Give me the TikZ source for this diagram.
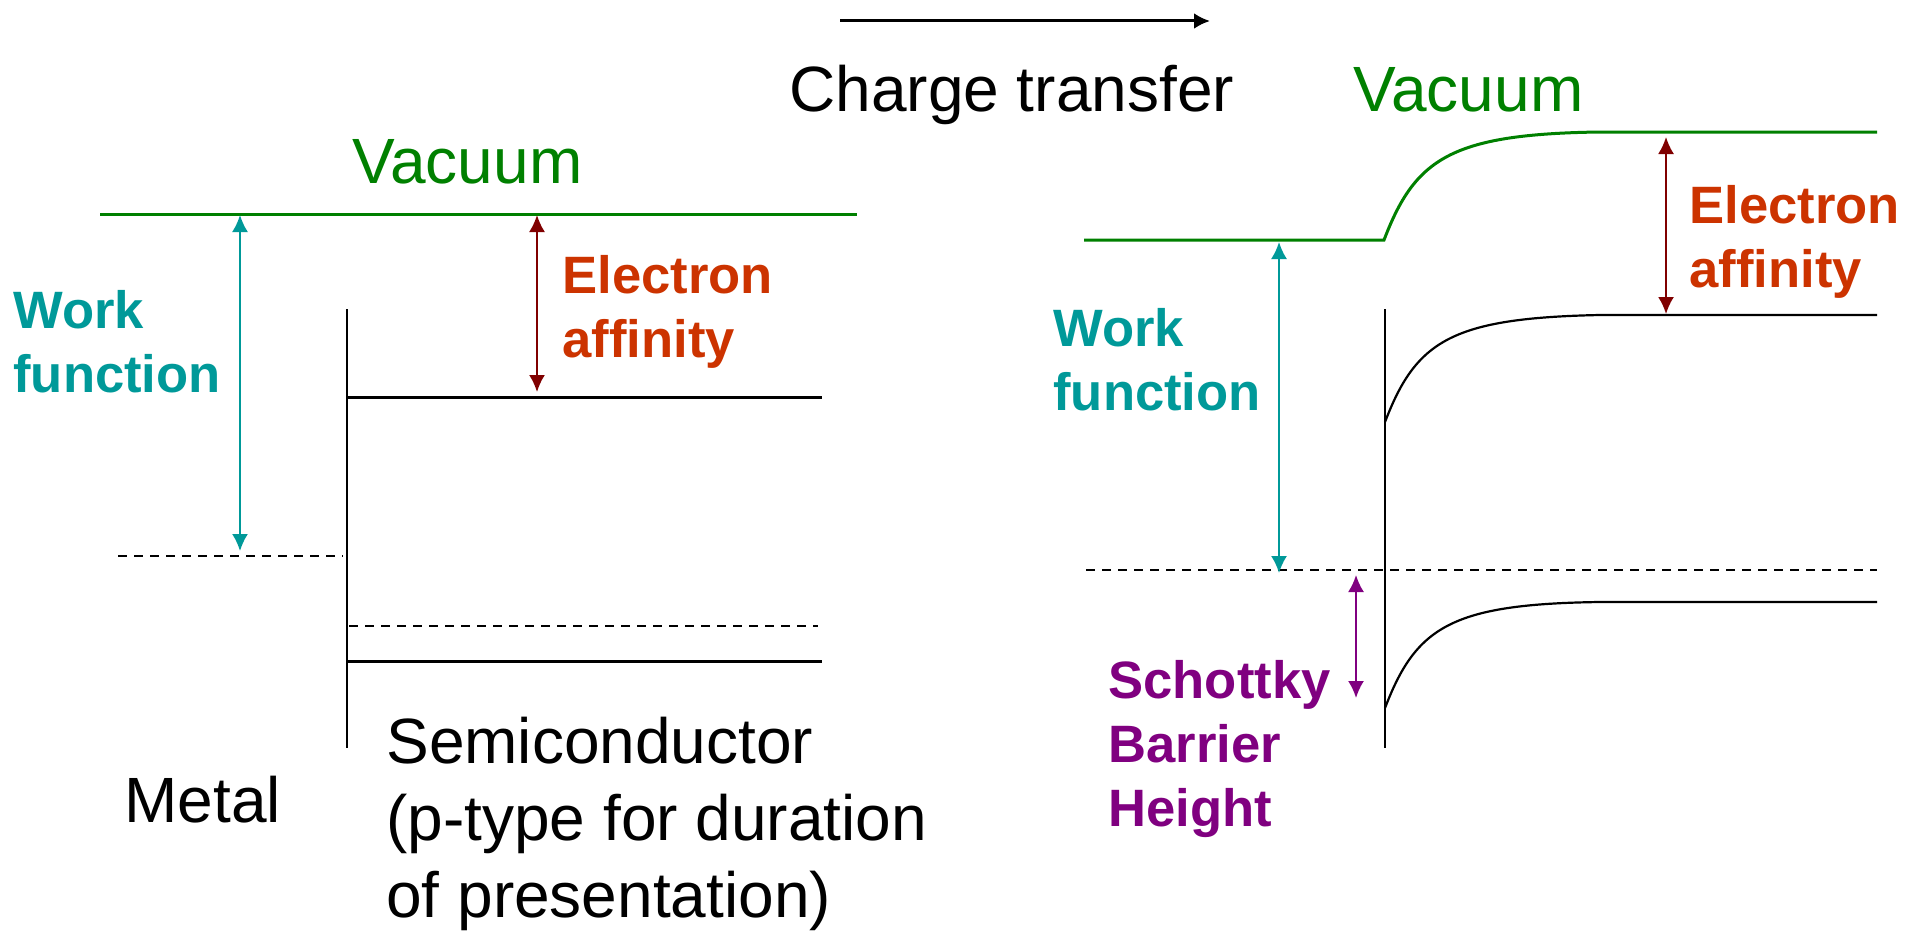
\documentclass[tikz,border=0pt]{standalone}
\usepackage{fontspec}
\setmainfont{Liberation Sans}
\usetikzlibrary{arrows.meta}
\definecolor{vacgreen}{RGB}{0,128,0}
\definecolor{wfteal}{RGB}{0,153,153}
\definecolor{eaorange}{RGB}{204,51,0}
\definecolor{eadark}{RGB}{128,0,0}
\definecolor{sbpurple}{RGB}{128,0,128}
\begin{document}
\begin{tikzpicture}[x=0.5pt,y=-0.5pt,
  lbl/.style={inner sep=0pt, anchor=base west, align=left, font=\fontsize{32}{38.5}\selectfont},
  blbl/.style={inner sep=0pt, anchor=base west, align=left, font=\bfseries\fontsize{26.3}{32}\selectfont},
  vac/.style={vacgreen, line width=1.5pt},
  band/.style={black, line width=1.5pt},
  bandc/.style={black, line width=1.1pt},
  iface/.style={black, line width=1pt},
  fermi/.style={black, line width=1pt, dash pattern=on 4.5pt off 3.5pt},
  dim/.style={line width=1pt, {Latex[length=8.5pt,width=8pt]}-{Latex[length=8.5pt,width=8pt]}},
]
\useasboundingbox (0,0) rectangle (1914,931);

% ---------- left: before contact ----------
\draw[vac] (100,214) -- (857,214);
\draw[iface] (347,309) -- (347,748);
\draw[band] (347,397) -- (822,397);
\draw[fermi] (118,556) -- (343,556);
\draw[fermi] (349,626) -- (818,626);
\draw[band] (347,661) -- (822,661);

\coordinate (wfLt) at (240,215);
\coordinate (wfLb) at (240,551);
\coordinate (eaLt) at (537,215);
\coordinate (eaLb) at (537,392);
\draw[dim, wfteal] (wfLt) -- (wfLb);
\draw[dim, eadark] (eaLt) -- (eaLb);

% multi-line nodes: base anchor = baseline of last line
\node[lbl, text=vacgreen] (vacL) at (352,183) {Vacuum};
\node[blbl, text=wfteal] (wfL) at (13,392) {Work\\function};
\node[blbl, text=eaorange] (eaL) at (562,357) {Electron\\affinity};
\node[lbl] (metal) at (124,822) {Metal};
\node[lbl] (semi) at (386,917) {Semiconductor\\(p-type for duration\\of presentation)};

% ---------- charge transfer ----------
\coordinate (ctA) at (840,21);
\coordinate (ctB) at (1210,21);
\draw[line width=1.5pt, -{Latex[length=8pt,width=8pt]}] (ctA) -- (ctB);
\node[lbl] (ct) at (789,112) {Charge transfer};

% ---------- right: after contact ----------
\draw[vac] (1084,240) -- (1384,240) .. controls (1415,159) and (1450,134) .. (1600,132) -- (1877,132);
\draw[iface] (1385,309) -- (1385,748);
\draw[bandc] (1385,422) .. controls (1416,341) and (1451,318) .. (1600,315) -- (1877,315);
\draw[fermi] (1086,570) -- (1877,570);
\draw[bandc] (1385,708) .. controls (1416,627) and (1451,604) .. (1600,602) -- (1877,602);

\coordinate (wfRt) at (1279,242);
\coordinate (wfRb) at (1279,573);
\coordinate (eaRt) at (1666,137);
\coordinate (eaRb) at (1666,314);
\coordinate (sbt) at (1356,575);
\coordinate (sbb) at (1356,698);
\draw[dim, wfteal] (wfRt) -- (wfRb);
\draw[dim, eadark] (eaRt) -- (eaRb);
\draw[dim, sbpurple] (sbt) -- (sbb);

\node[lbl, text=vacgreen] (vacR) at (1353,112) {Vacuum};
\node[blbl, text=wfteal] (wfR) at (1053,410) {Work\\function};
\node[blbl, text=eaorange] (eaR) at (1689,287) {Electron\\affinity};
\node[blbl, text=sbpurple] (sb) at (1108,826) {Schottky\\Barrier\\Height};
\end{tikzpicture}
\end{document}
